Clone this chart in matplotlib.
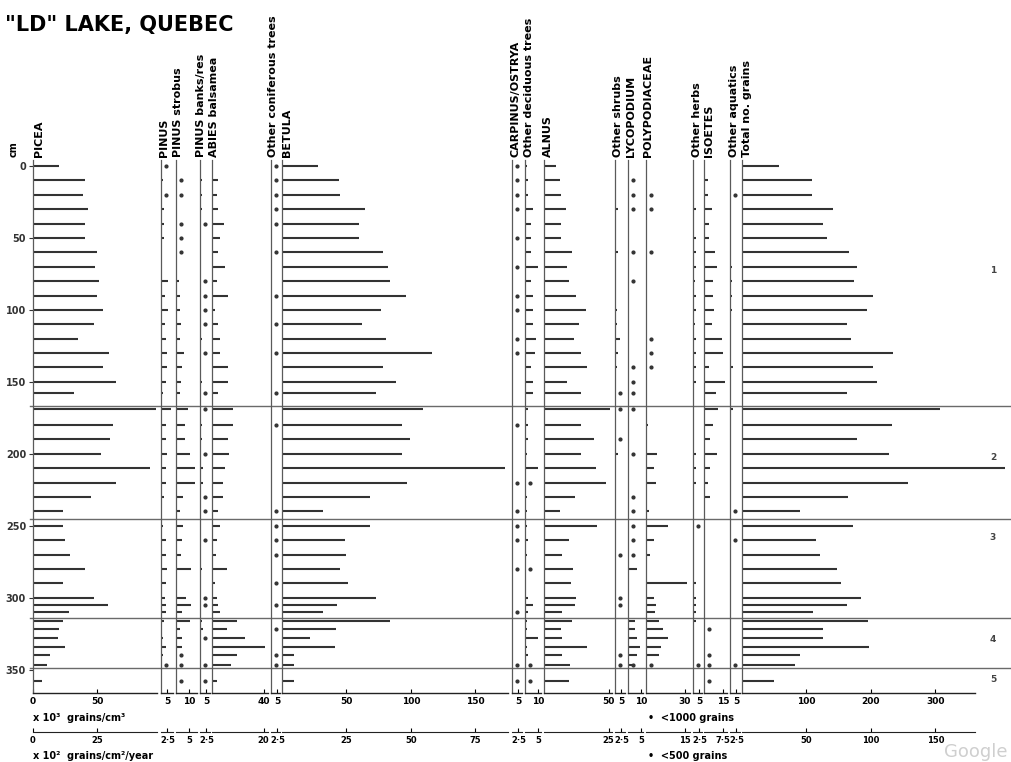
import numpy as np
import matplotlib.pyplot as plt

depths = [0, 10, 20, 30, 40, 50, 60, 70, 80, 90, 100, 110, 120, 130, 140, 150, 158, 169, 180, 190,
          200, 210, 220, 230, 240, 250, 260, 270, 280, 290, 300, 305, 310, 316, 322, 328, 334, 340, 347, 358]

picea = [20, 40, 39, 43, 40, 40, 50, 48, 51, 50, 54, 47, 35, 59, 54, 64, 32, 95, 62, 60,
         53, 91, 64, 45, 23, 23, 25, 29, 40, 23, 47, 58, 28, 23, 20, 19, 25, 13, 11, 7]
pinus = [0, 1.5, 0, 2, 2, 2, 0, 1, 5.5, 3, 5.5, 3, 4, 4.5, 4.5, 4, 1.5, 8, 4, 4,
         4.5, 4, 4, 2.5, 1, 1.5, 4, 4, 4.5, 4, 3, 4, 4, 2.5, 1, 1.5, 4, 1.5, 0, 0]
pinus_dots = [0, 20, 347]
strobus = [0, 0, 0, 1, 0, 0, 0, 1, 2, 3, 3, 4, 3, 6, 5, 4, 3, 9, 7, 7,
           11, 15, 15, 5.5, 3, 5.5, 4.5, 4, 12, 1, 8, 12, 4.5, 11, 3, 4.5, 4.5, 0, 0, 0]
strobus_dots = [10, 20, 40, 50, 60, 340, 347, 358]
banks = [0, 1.5, 1.5, 1.5, 0, 1, 1, 0, 0, 0, 0, 0, 1.5, 0, 1, 1.5, 0, 0, 1.5, 1.5,
         0, 2.5, 2.5, 0, 0, 0, 0, 1, 1.5, 1, 0, 0, 1, 1.5, 2, 0, 1, 1, 0, 0]
banks_dots = [40, 80, 90, 100, 110, 130, 158, 169, 200, 230, 240, 260, 300, 305, 328, 347, 358]
abies = [0, 5, 4, 5, 9, 6, 4.5, 10, 4, 12.5, 2.5, 4.5, 6, 6, 12.5, 12.5, 4.5, 16.5, 16.5, 12.5,
         13.5, 10, 8.5, 8.5, 4.5, 6, 4, 3, 11.5, 2.5, 4, 4.5, 6, 19, 11.5, 25.5, 41, 19.5, 15, 3.5]
other_conif = [0, 0, 0, 0, 0, 1, 0, 1, 0, 0, 0, 0, 0, 0, 0, 1, 0, 1, 0, 1,
               0, 1, 1, 1, 0, 0, 0, 0, 0, 0, 1, 0, 0, 0, 0, 0, 0, 0, 0, 0]
other_conif_dots = [0, 10, 20, 30, 40, 60, 90, 110, 130, 158, 180, 240, 250, 260, 270, 290, 305, 322, 340, 347]
betula = [28, 44, 45, 64, 60, 60, 78, 82, 84, 96, 77, 62, 81, 116, 78, 88, 73, 109, 93, 99,
          93, 173, 97, 68, 32, 68, 49, 50, 45, 51, 73, 43, 32, 84, 42, 22, 41, 9, 9, 9]
carpinus = [0, 0, 0, 0, 0, 0, 0, 0, 1, 0, 0, 1, 0, 0, 1, 0, 1, 1, 0, 0,
            1, 1, 0, 1, 0, 0, 0, 1, 0, 0, 0, 1, 0, 1, 1, 1, 1, 1, 0, 0]
carpinus_dots = [0, 10, 20, 30, 50, 70, 90, 100, 120, 130, 180, 220, 240, 250, 260, 280, 310, 347, 358]
other_decid = [1.5, 2.5, 2.5, 6, 5, 5, 4.5, 10, 5, 6, 6, 6, 8.5, 8, 5, 6, 6, 2.5, 2, 2.5,
               1.5, 10, 0, 1.5, 1.5, 1.5, 2, 1.5, 0, 0, 2, 6, 2.5, 1.5, 1.5, 10, 1.5, 2, 0, 0]
other_decid_dots = [220, 280, 347, 358]
alnus = [9, 12.5, 13, 17, 13, 13, 21.5, 17.5, 19, 25, 32.5, 27, 23, 29, 33, 17.5, 28.5, 51, 28.5, 39,
         29, 40, 48, 24, 12.5, 41, 19, 14, 22.5, 21, 25, 24, 14, 21.5, 13, 14, 33.5, 14, 20, 19]
other_shrubs = [0, 1, 1, 2.5, 1, 1, 2, 1, 1, 1, 1.5, 1.5, 4, 2.5, 1.5, 1, 0, 0, 1, 0,
                2.5, 1, 0, 1, 0, 0, 0, 0, 0, 0, 0, 0, 1, 1, 1, 1, 1, 0, 0, 0]
other_shrubs_dots = [158, 169, 190, 270, 300, 305, 340, 347]
lyco = [0, 0, 0, 0, 0, 0, 0, 1, 0, 0, 1, 1, 0, 1, 0, 0, 0, 0, 0, 1,
        0, 1, 0, 0, 0, 0, 0, 0, 7, 0, 0, 1, 1, 5.5, 5.5, 7, 9.5, 7, 3, 0]
lyco_dots = [10, 20, 30, 60, 80, 140, 150, 158, 169, 200, 230, 240, 250, 260, 270, 347]
poly = [0, 0, 0, 0, 0, 1, 0, 1, 1, 1, 1, 1, 0, 0, 0, 1, 1, 1, 1.5, 1,
        8.5, 6, 8, 1, 2, 17, 6, 3, 1, 32, 6, 8, 7, 10, 13, 17, 12, 10, 0, 1]
poly_dots = [20, 30, 60, 120, 130, 140, 347]
other_herbs = [0, 1, 1, 2, 1, 2, 2, 2, 1.5, 2, 2, 1.5, 2, 2, 2, 2, 1, 1, 1, 1,
               2, 2, 2, 1, 1, 0, 1, 1, 1, 2, 2, 2, 2, 2, 1, 1, 1, 1, 0, 1]
other_herbs_dots = [250, 347]
isoetes = [0, 3, 3, 6, 4, 4, 8.5, 10, 7, 7, 8, 6, 14, 15, 4, 16, 9, 11, 7, 5,
           10, 5, 3, 5, 1, 1, 1, 1, 1, 1, 1, 1, 1, 1, 0, 1, 1, 0, 0, 0]
isoetes_dots = [322, 340, 347, 358]
other_aquatics = [0, 1, 0, 1, 1, 1, 1, 1.5, 1.5, 1.5, 1.5, 1, 1, 1, 2, 1, 1, 2, 1, 1,
                  1, 1, 1, 1, 0, 1, 0, 1, 1, 1, 1, 1, 1, 1, 1, 1, 1, 1, 0, 1]
other_aquatics_dots = [20, 240, 260, 347]
total = [57, 108, 108, 141, 125, 132, 166, 178, 173, 203, 194, 163, 169, 234, 203, 209, 163, 307, 232, 178,
         228, 408, 257, 164, 90, 172, 115, 121, 147, 153, 184, 163, 110, 195, 125, 126, 197, 90, 82, 50]

zones = [167, 245, 314, 349]
zone_names = ['1', '2', '3', '4', '5']
zone_label_y = [271, 458, 537, 640, 680]

# header, values, dots, ticks
taxa = [
    ('PICEA', picea, [], [0, 50]),
    ('PINUS', pinus, pinus_dots, [5]),
    ('PINUS strobus', strobus, strobus_dots, [10]),
    ('PINUS banks/res', banks, banks_dots, [5]),
    ('ABIES balsamea', abies, [], [40]),
    ('Other coniferous trees', other_conif, other_conif_dots, [5]),
    ('BETULA', betula, [], [50, 100, 150]),
    ('CARPINUS/OSTRYA', carpinus, carpinus_dots, [5]),
    ('Other deciduous trees', other_decid, other_decid_dots, [10]),
    ('ALNUS', alnus, [], [50]),
    ('Other shrubs', other_shrubs, other_shrubs_dots, [5]),
    ('LYCOPODIUM', lyco, lyco_dots, [10]),
    ('POLYPODIACEAE', poly, poly_dots, [30]),
    ('Other herbs', other_herbs, other_herbs_dots, [5]),
    ('ISOETES', isoetes, isoetes_dots, [15]),
    ('Other aquatics', other_aquatics, other_aquatics_dots, [5]),
    ('Total no. grains', total, [], [100, 200, 300]),
]
# pixel layout: baseline, right end, px per unit, header x
layout = [(33, 157, 1.29, 39), (161, 173, 1.29, 164), (176, 197, 1.29, 178), (200, 210, 1.29, 201),
          (212, 268, 1.29, 214), (271, 280, 1.29, 273), (282, 508, 1.29, 287), (512, 522, 1.29, 516),
          (525, 541, 1.29, 529), (544, 612, 1.29, 548), (615, 625, 1.29, 618), (628, 643, 1.29, 631),
          (646, 690, 1.29, 648), (693, 702, 1.29, 697), (704, 727, 1.29, 709), (730, 740, 1.29, 734),
          (742, 975, 0.645, 747)]

W, H = 1012, 762
TOP, BOT = 160, 693
D0, PXCM = 166, 1.439
INK = '#333333'
LINE = '#5a5a5a'


def fx(x):
    return x / W


def fy(y):
    return 1 - y / H


def fmt(v):
    return f'{v:g}'.replace('.', '\u00b7')


ylim = ((BOT - D0) / PXCM, (TOP - D0) / PXCM)
fig = plt.figure(figsize=(W / 100, H / 100), dpi=100)
fig.patch.set_facecolor('white')

ax_bg = fig.add_axes([0, fy(BOT), 1, (BOT - TOP) / H])
ax_bg.set_xlim(0, 1)
ax_bg.set_ylim(ylim)
ax_bg.axis('off')
for z in zones:
    ax_bg.axhline(z, xmin=30 / W, xmax=1, color='#6a6a6a', lw=1.0)

for (name, vals, dots, ticks), (base, right, ppu, hx) in zip(taxa, layout):
    ax = fig.add_axes([fx(base), fy(BOT), (right - base) / W, (BOT - TOP) / H])
    ax.patch.set_visible(False)
    ax.set_xlim(0, (right - base) / ppu)
    ax.set_ylim(ylim)
    ax.hlines(depths, 0, vals, color=INK, lw=1.5, clip_on=False)
    if dots:
        ax.plot(np.full(len(dots), 5 / ppu), dots, 'o', ms=2.0, color=INK, clip_on=False)
    for s in ['top', 'right']:
        ax.spines[s].set_visible(False)
    ax.spines['left'].set_color(LINE)
    ax.spines['left'].set_linewidth(0.9)
    ax.spines['bottom'].set_color('#222')
    ax.spines['bottom'].set_linewidth(1.0)
    ax.set_xticks(ticks)
    ax.set_xticklabels([fmt(t) for t in ticks], fontweight='bold')
    ax.tick_params(axis='x', direction='in', length=3, width=0.8, pad=3, labelsize=6.5)
    sec = ax.secondary_xaxis(-0.0732, functions=(lambda v: v / 2, lambda v: v * 2))
    sec.set_xticks([t / 2 for t in ticks])
    sec.set_xticklabels([fmt(t / 2) for t in ticks], fontweight='bold')
    sec.tick_params(direction='in', length=3, width=0.8, pad=3, labelsize=6)
    sec.spines['bottom'].set_color('#222')
    if name == 'PICEA':
        ax.set_yticks(range(0, 351, 50))
        ax.set_yticklabels([str(d) for d in range(0, 351, 50)], fontweight='bold')
        ax.tick_params(axis='y', direction='out', length=3, width=0.8, pad=2, labelsize=7, colors='#333')
    else:
        ax.set_yticks([])
    fig.text(fx(hx), fy(157), name, rotation=90, ha='center', va='bottom',
             fontsize=8, fontweight='bold')

for name, y in zip(zone_names, zone_label_y):
    fig.text(fx(993), fy(y), name, ha='center', va='center', fontsize=6.5, fontweight='bold', color='#444')

fig.text(fx(5), fy(25), '"LD" LAKE, QUEBEC', fontsize=15, fontweight='heavy', va='center')
fig.text(fx(14), fy(157), 'cm', rotation=90, ha='center', va='bottom', fontsize=7, fontweight='bold')
fig.text(fx(33), fy(718), 'x 10\u00b3  grains/cm\u00b3', fontsize=7, fontweight='bold', va='center')
fig.text(fx(33), fy(756), 'x 10\u00b2  grains/cm\u00b2/year', fontsize=7, fontweight='bold', va='center')
fig.text(fx(648), fy(718), '\u2022  <1000 grains', fontsize=7, fontweight='bold', va='center')
fig.text(fx(648), fy(756), '\u2022  <500 grains', fontsize=7, fontweight='bold', va='center')
fig.text(fx(1008), fy(761), 'Google', fontsize=13, color='#cfcfcf', ha='right', va='bottom')

fig.savefig('out.png', dpi=100)
